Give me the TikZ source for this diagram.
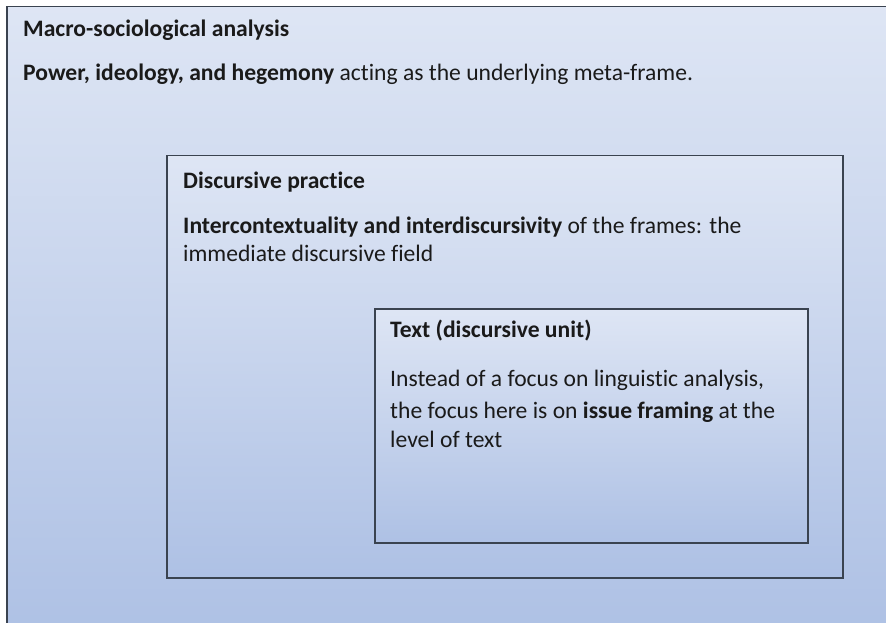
\documentclass[tikz,border=0pt]{standalone}
\usepackage{fontspec}
\setmainfont[Ligatures=NoCommon]{Carlito}
\definecolor{topc}{HTML}{F6F8FC}
\definecolor{midc}{HTML}{A9BDE3}
\definecolor{botc}{HTML}{C6D4EE}
\definecolor{edgec}{HTML}{3A4350}
\definecolor{txtc}{HTML}{1A1A1A}
\pgfdeclareverticalshading{officegrad}{100bp}{color(0bp)=(botc); color(20bp)=(midc); color(100bp)=(topc)}
\tikzset{
  boxstyle/.style={draw=edgec, line width=1.5bp, shading=officegrad, rectangle, inner sep=0pt, anchor=north west},
  txt/.style={anchor=base west, inner sep=0pt, text=txtc, font=\fontsize{23.6bp}{28bp}\selectfont},
}
\begin{document}
\begin{tikzpicture}[x=1bp,y=-1bp]
\useasboundingbox (0,0) rectangle (886,623);
\clip (0,0) rectangle (886,623);
\fill[white] (0,0) rectangle (886,623);
\node[boxstyle, minimum width=900bp, minimum height=630bp] (outer) at (6,6) {};
\node[boxstyle, minimum width=676bp, minimum height=422bp] (practice) at (166,155) {};
\node[boxstyle, minimum width=433bp, minimum height=234bp] (textbox) at (374,308) {};
\node[txt] (t1) at (23,37) {\textbf{Macro-sociological analysis}};
\node[txt] (t2) at (23,81) {\textbf{Power, ideology, and hegemony} acting as the underlying meta-frame.};
\node[txt] (t3) at (183,189) {\textbf{Discursive practice}};
\node[txt] (t4) at (183,234) {\textbf{Intercontextuality and interdiscursivity} of the frames: the};
\node[txt] (t5) at (183,262) {immediate discursive field};
\node[txt] (t6) at (390,337) {\textbf{Text (discursive unit)}};
\node[txt] (t7) at (390,386) {Instead of a focus on linguistic analysis,};
\node[txt] (t8) at (390,418) {the focus here is on \textbf{issue framing} at the};
\node[txt] (t9) at (390,447) {level of text};
\end{tikzpicture}
\end{document}
